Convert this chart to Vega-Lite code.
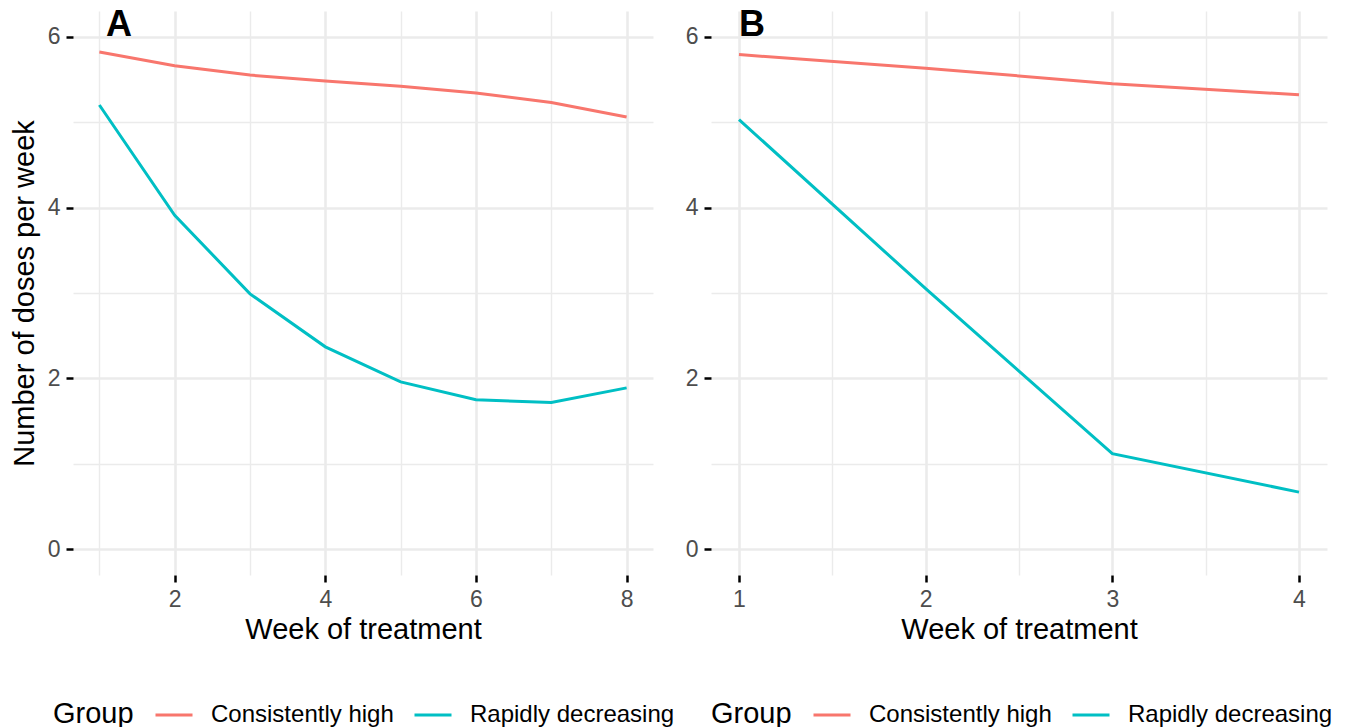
{
  "$schema": "https://vega.github.io/schema/vega-lite/v6.json",
  "padding": {"left": 10, "top": 7, "right": 5, "bottom": 0},
  "background": "white",
  "datasets": {
    "doses": [
      {"panel": "A", "week": 1, "group": "Consistently high", "doses": 5.82},
      {"panel": "A", "week": 2, "group": "Consistently high", "doses": 5.66},
      {"panel": "A", "week": 3, "group": "Consistently high", "doses": 5.55},
      {"panel": "A", "week": 4, "group": "Consistently high", "doses": 5.48},
      {"panel": "A", "week": 5, "group": "Consistently high", "doses": 5.42},
      {"panel": "A", "week": 6, "group": "Consistently high", "doses": 5.34},
      {"panel": "A", "week": 7, "group": "Consistently high", "doses": 5.23},
      {"panel": "A", "week": 8, "group": "Consistently high", "doses": 5.06},
      {"panel": "A", "week": 1, "group": "Rapidly decreasing", "doses": 5.2},
      {"panel": "A", "week": 2, "group": "Rapidly decreasing", "doses": 3.91},
      {"panel": "A", "week": 3, "group": "Rapidly decreasing", "doses": 2.99},
      {"panel": "A", "week": 4, "group": "Rapidly decreasing", "doses": 2.37},
      {"panel": "A", "week": 5, "group": "Rapidly decreasing", "doses": 1.96},
      {"panel": "A", "week": 6, "group": "Rapidly decreasing", "doses": 1.75},
      {"panel": "A", "week": 7, "group": "Rapidly decreasing", "doses": 1.72},
      {"panel": "A", "week": 8, "group": "Rapidly decreasing", "doses": 1.89},
      {"panel": "B", "week": 1, "group": "Consistently high", "doses": 5.79},
      {"panel": "B", "week": 2, "group": "Consistently high", "doses": 5.63},
      {"panel": "B", "week": 3, "group": "Consistently high", "doses": 5.45},
      {"panel": "B", "week": 4, "group": "Consistently high", "doses": 5.32},
      {"panel": "B", "week": 1, "group": "Rapidly decreasing", "doses": 5.03},
      {"panel": "B", "week": 2, "group": "Rapidly decreasing", "doses": 3.05},
      {"panel": "B", "week": 3, "group": "Rapidly decreasing", "doses": 1.12},
      {"panel": "B", "week": 4, "group": "Rapidly decreasing", "doses": 0.67}
    ]
  },
  "config": {
    "font": "Liberation Sans",
    "view": {"stroke": null},
    "axis": {
      "domain": false,
      "gridColor": "#EBEBEB",
      "tickColor": "#000000",
      "tickWidth": 2.5,
      "tickSize": 7,
      "labelColor": "#4D4D4D",
      "labelFontSize": 23,
      "labelPadding": 6,
      "titleFontSize": 29,
      "titleFontWeight": "normal",
      "titleColor": "#000000"
    },
    "legend": {
      "orient": "none",
      "direction": "horizontal",
      "titleOrient": "left",
      "titleFontSize": 29,
      "titleFontWeight": "normal",
      "titleColor": "#000000",
      "titlePadding": 20,
      "titleBaseline": "line-top",
      "titleLineHeight": 7,
      "labelFontSize": 24,
      "labelColor": "#000000",
      "labelLimit": 400,
      "labelOffset": 17,
      "columnPadding": 14,
      "symbolType": "stroke",
      "symbolSize": 1369,
      "symbolStrokeWidth": 3,
      "legendY": 684
    },
    "title": {
      "fontSize": 36,
      "fontWeight": "bold",
      "color": "#000000",
      "anchor": "start",
      "frame": "group",
      "baseline": "alphabetic",
      "offset": -33
    }
  },
  "resolve": {"scale": {"color": "independent"}, "legend": {"color": "independent"}},
  "spacing": 10,
  "hconcat": [
    {
      "width": 580,
      "height": 564,
      "title": {"text": "A", "dx": 33},
      "data": {"name": "doses"},
      "transform": [{"filter": "datum.panel === 'A'"}],
      "mark": {"type": "line", "strokeWidth": 3},
      "encoding": {
        "x": {
          "field": "week", "type": "quantitative",
          "scale": {"domain": [0.65, 8.35], "nice": false, "zero": false},
          "axis": {
            "title": "Week of treatment",
            "values": [1, 2, 3, 4, 5, 6, 7, 8],
            "format": ".0f",
            "labelExpr": "datum.value % 2 === 0 ? datum.label : ''",
            "tickOpacity": {"condition": {"test": "datum.value % 2 === 0", "value": 1}, "value": 0},
            "gridWidth": {"condition": {"test": "datum.value % 2 === 0", "value": 2.6}, "value": 1.4},
            "titlePadding": 4
          }
        },
        "y": {
          "field": "doses", "type": "quantitative",
          "scale": {"domain": [-0.3, 6.3], "nice": false, "zero": false},
          "axis": {
            "title": "Number of doses per week",
            "values": [0, 1, 2, 3, 4, 5, 6],
            "format": ".0f",
            "labelExpr": "datum.value % 2 === 0 ? datum.label : ''",
            "tickOpacity": {"condition": {"test": "datum.value % 2 === 0", "value": 1}, "value": 0},
            "gridWidth": {"condition": {"test": "datum.value % 2 === 0", "value": 2.6}, "value": 1.4},
            "titlePadding": 8
          }
        },
        "color": {
          "field": "group", "type": "nominal",
          "scale": {"domain": ["Consistently high", "Rapidly decreasing"], "range": ["#F8766D", "#00BFC4"]},
          "legend": {"title": "Group", "legendX": -20}
        }
      }
    },
    {
      "width": 616,
      "height": 564,
      "title": {"text": "B", "dx": 28},
      "data": {"name": "doses"},
      "transform": [{"filter": "datum.panel === 'B'"}],
      "mark": {"type": "line", "strokeWidth": 3},
      "encoding": {
        "x": {
          "field": "week", "type": "quantitative",
          "scale": {"domain": [0.85, 4.15], "nice": false, "zero": false},
          "axis": {
            "title": "Week of treatment",
            "values": [1, 1.5, 2, 2.5, 3, 3.5, 4],
            "format": ".0f",
            "labelExpr": "datum.value % 1 === 0 ? datum.label : ''",
            "tickOpacity": {"condition": {"test": "datum.value % 1 === 0", "value": 1}, "value": 0},
            "gridWidth": {"condition": {"test": "datum.value % 1 === 0", "value": 2.6}, "value": 1.4},
            "titlePadding": 4
          }
        },
        "y": {
          "field": "doses", "type": "quantitative",
          "scale": {"domain": [-0.3, 6.3], "nice": false, "zero": false},
          "axis": {
            "title": null,
            "values": [0, 1, 2, 3, 4, 5, 6],
            "format": ".0f",
            "labelExpr": "datum.value % 2 === 0 ? datum.label : ''",
            "tickOpacity": {"condition": {"test": "datum.value % 2 === 0", "value": 1}, "value": 0},
            "gridWidth": {"condition": {"test": "datum.value % 2 === 0", "value": 2.6}, "value": 1.4}
          }
        },
        "color": {
          "field": "group", "type": "nominal",
          "scale": {"domain": ["Consistently high", "Rapidly decreasing"], "range": ["#F8766D", "#00BFC4"]},
          "legend": {"title": "Group", "legendX": 0}
        }
      }
    }
  ]
}
